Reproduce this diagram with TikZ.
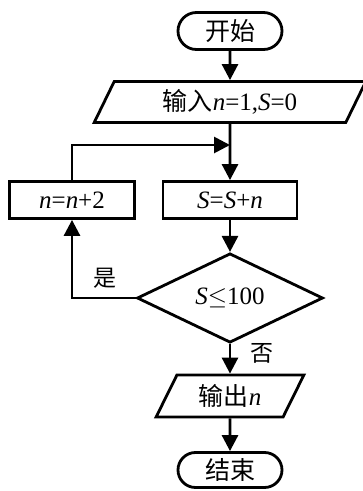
\documentclass[tikz,border=0pt]{standalone}
\usepackage{fontspec}
\setmainfont{Liberation Serif}
\newfontfamily\cjk{Noto Sans CJK SC}
\usetikzlibrary{shapes.geometric,shapes.misc,arrows.meta}
\begin{document}
\begin{tikzpicture}[x=1pt,y=-1pt]
	\tikzstyle{terminal} = [rounded rectangle, draw, line width=2.8pt, minimum width=104pt, minimum height=37pt, inner sep=0pt, font=\fontsize{25}{27}\selectfont]
\tikzstyle{io} = [trapezium, trapezium left angle=65, trapezium right angle=115, trapezium stretches=true, draw, line width=2.8pt, minimum height=41pt, inner sep=0pt, font=\fontsize{25}{27}\selectfont]
\tikzstyle{process} = [rectangle, draw, line width=2.8pt, minimum height=37pt, inner sep=0pt, font=\fontsize{25}{27}\selectfont]
\tikzstyle{decision} = [diamond, draw, line width=2.8pt, minimum width=186pt, minimum height=65pt, inner sep=0pt, font=\fontsize{25}{27}\selectfont]
\tikzstyle{edge_label} = [inner sep=0pt, font=\fontsize{23}{25}\selectfont\cjk]
\tikzstyle{edge} = [line width=2.8pt, -{Triangle[length=16pt,width=16pt]}]
\def\axis{230}

\useasboundingbox (0,0) rectangle (363,491);

%main column
\node[terminal] (start) at (\axis, 31) {\cjk 开始};
\node[io, minimum width=272pt] (input) at (\axis, 102) {{\cjk 输入}\textit{n}=1,\textit{S}=0};
\coordinate (join) at (\axis, 145);
\node[process, minimum width=134pt] (sum) at (\axis, 200) {\textit{S}=\textit{S}+\textit{n}};
\node[decision] (cond) at (\axis, 298) {\textit{S}$\leq$100};
\node[io, minimum width=149pt, minimum height=42pt, trapezium left angle=62, trapezium right angle=118] (output) at (\axis, 396) {{\cjk 输出}\textit{n}};
\node[terminal, minimum height=35pt] (stop) at (\axis, 470) {\cjk 结束};

%loop
\node[process, minimum width=125pt] (add) at (72, 200) {\textit{n}=\textit{n}+2};

\foreach \from/\to in {start/input, input/sum, sum/cond, cond/output, output/stop}
	\draw[edge] (\from) -- (\to);

\draw[edge] (add.north) |- (join);
\draw[edge] (cond.west) -| (add.south);

%labels
\node[edge_label] (yes) at (105, 278) {是};
\node[edge_label] (no) at (262, 353) {否};
\end{tikzpicture}
\end{document}
